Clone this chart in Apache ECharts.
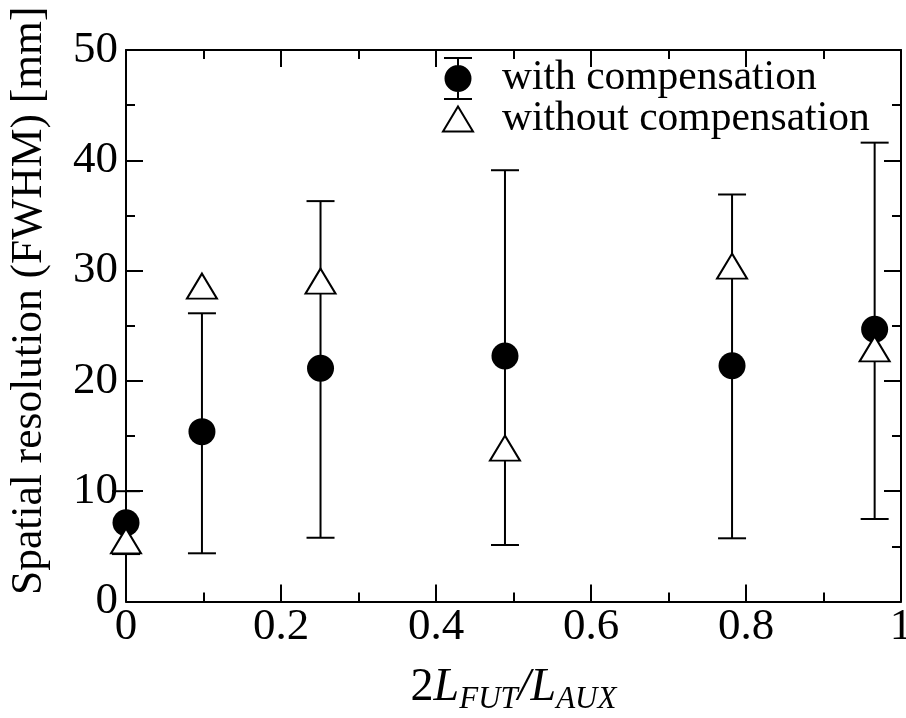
<!DOCTYPE html>
<html>
<head>
<meta charset="utf-8">
<script src="https://cdn.jsdelivr.net/npm/echarts@6/dist/echarts.min.js"></script>
<style>
  html, body { margin: 0; padding: 0; background: #fff; }
  #chart { width: 906px; height: 718px; }
</style>
</head>
<body>
<div id="chart"></div>
<script>
// Ratio 2L_FUT / L_AUX for each measurement
const ratios = [0, 0.098, 0.251, 0.489, 0.782, 0.966];
// Spatial resolution (FWHM) in mm
const withCompensation = [7.14, 15.4, 21.14, 22.26, 21.38, 24.68];
const withCompLow = [4.3, 4.37, 5.78, 5.12, 5.73, 7.48];
const withCompHigh = [10.0, 26.13, 36.3, 39.1, 36.9, 41.6];
const withoutCompensation = [5.5, 28.6, 29.05, 13.9, 30.4, 22.9];

const xTicks = { min: 0, max: 1, interval: 0.2 };
const yTicks = { min: 0, max: 50, interval: 10 };

const FONT = 'Liberation Serif';

const circlePoints = ratios.map((x, i) => [x, withCompensation[i]]);
const trianglePoints = ratios.map((x, i) => [x, withoutCompensation[i]]);
const errorBars = ratios.map((x, i) => [x, withCompLow[i], withCompHigh[i]]);

// Legend icon: filled circle with its error bar
const circleBarIcon = 'path://' +
  'M0,0H28V2H0Z' +
  'M0,41H28V43H0Z' +
  'M13,0H15V43H13Z' +
  'M0.5,21.5A13.5,13.5,0,1,1,27.5,21.5A13.5,13.5,0,1,1,0.5,21.5Z';
const triangleIcon = 'path://M15,0L30,25L0,25Z';

function axisCommon(extra) {
  return Object.assign({
    type: 'value',
    axisLine: { show: true, onZero: false, lineStyle: { color: '#000', width: 2 } },
    axisTick: { show: true, inside: true, length: 17, lineStyle: { color: '#000', width: 2 } },
    minorTick: { show: true, splitNumber: 2, length: 9, lineStyle: { color: '#000', width: 2 } },
    splitLine: { show: false },
    minorSplitLine: { show: false }
  }, extra);
}

const chart = echarts.init(document.getElementById('chart'), null, { renderer: 'canvas' });

chart.setOption({
  animation: false,
  backgroundColor: '#fff',
  grid: { left: 126, right: 5, top: 50, bottom: 116.5, containLabel: false, outerBoundsMode: 'none' },
  xAxis: [
    axisCommon({
      min: xTicks.min, max: xTicks.max, interval: xTicks.interval,
      position: 'bottom',
      axisLabel: { color: '#000', fontSize: 45, fontFamily: FONT, margin: 3,
        formatter: v => String(+v.toFixed(1)) },
      name: '{n|2}{i|L}{s|FUT}{i|/L}{s|AUX}',
      nameLocation: 'middle',
      nameGap: 58,
      nameTextStyle: {
        color: '#000', fontFamily: FONT, fontSize: 45,
        rich: {
          n: { color: '#000', fontFamily: FONT, fontSize: 46, lineHeight: 56 },
          i: { color: '#000', fontFamily: FONT, fontSize: 46, fontStyle: 'italic', lineHeight: 56 },
          s: { color: '#000', fontFamily: FONT, fontSize: 31, fontStyle: 'italic', lineHeight: 30, verticalAlign: 'bottom' }
        }
      }
    }),
    axisCommon({
      min: xTicks.min, max: xTicks.max, interval: xTicks.interval,
      position: 'top',
      axisLabel: { show: false }
    })
  ],
  yAxis: [
    axisCommon({
      min: yTicks.min, max: yTicks.max, interval: yTicks.interval,
      position: 'left',
      axisLabel: { color: '#000', fontSize: 45, fontFamily: FONT, margin: 8 },
      name: 'Spatial resolution (FWHM) [mm]',
      nameLocation: 'middle',
      nameGap: 74,
      nameTextStyle: { color: '#000', fontFamily: FONT, fontSize: 43.5, padding: [0, 0, 0, 50] }
    }),
    axisCommon({
      min: yTicks.min, max: yTicks.max, interval: yTicks.interval,
      position: 'right',
      axisLabel: { show: false }
    })
  ],
  legend: {
    orient: 'vertical',
    left: 437,
    top: 52,
    itemWidth: 30,
    itemHeight: 43,
    itemGap: -2,
    selectedMode: false,
    textStyle: { color: '#000', fontFamily: FONT, fontSize: 41.5, padding: [10, 0, 0, 24] },
    data: [
      { name: 'with compensation', icon: circleBarIcon,
        itemStyle: { color: '#000', borderWidth: 0 } },
      { name: 'without compensation', icon: triangleIcon,
        itemStyle: { color: '#fff', borderColor: '#000', borderWidth: 2 } }
    ]
  },
  series: [
    {
      name: 'with compensation',
      type: 'custom',
      xAxisIndex: 0,
      yAxisIndex: 0,
      data: errorBars,
      encode: { x: 0, y: [1, 2] },
      z: 1,
      renderItem: function (params, api) {
        const x = api.value(0);
        const lo = api.coord([x, api.value(1)]);
        const hi = api.coord([x, api.value(2)]);
        const half = 14;
        const style = { stroke: '#000', lineWidth: 2 };
        return {
          type: 'group',
          children: [
            { type: 'line', shape: { x1: lo[0], y1: lo[1], x2: hi[0], y2: hi[1] }, style: style },
            { type: 'line', shape: { x1: lo[0] - half, y1: lo[1], x2: lo[0] + half, y2: lo[1] }, style: style },
            { type: 'line', shape: { x1: hi[0] - half, y1: hi[1], x2: hi[0] + half, y2: hi[1] }, style: style }
          ]
        };
      }
    },
    {
      name: 'with compensation',
      type: 'scatter',
      data: circlePoints,
      symbol: 'circle',
      symbolSize: 27,
      z: 2,
      itemStyle: { color: '#000', opacity: 1 }
    },
    {
      name: 'without compensation',
      type: 'scatter',
      data: trianglePoints,
      symbol: 'triangle',
      symbolSize: [30, 25],
      z: 3,
      itemStyle: { color: '#fff', borderColor: '#000', borderWidth: 2, opacity: 1 }
    }
  ]
});
</script>
</body>
</html>
